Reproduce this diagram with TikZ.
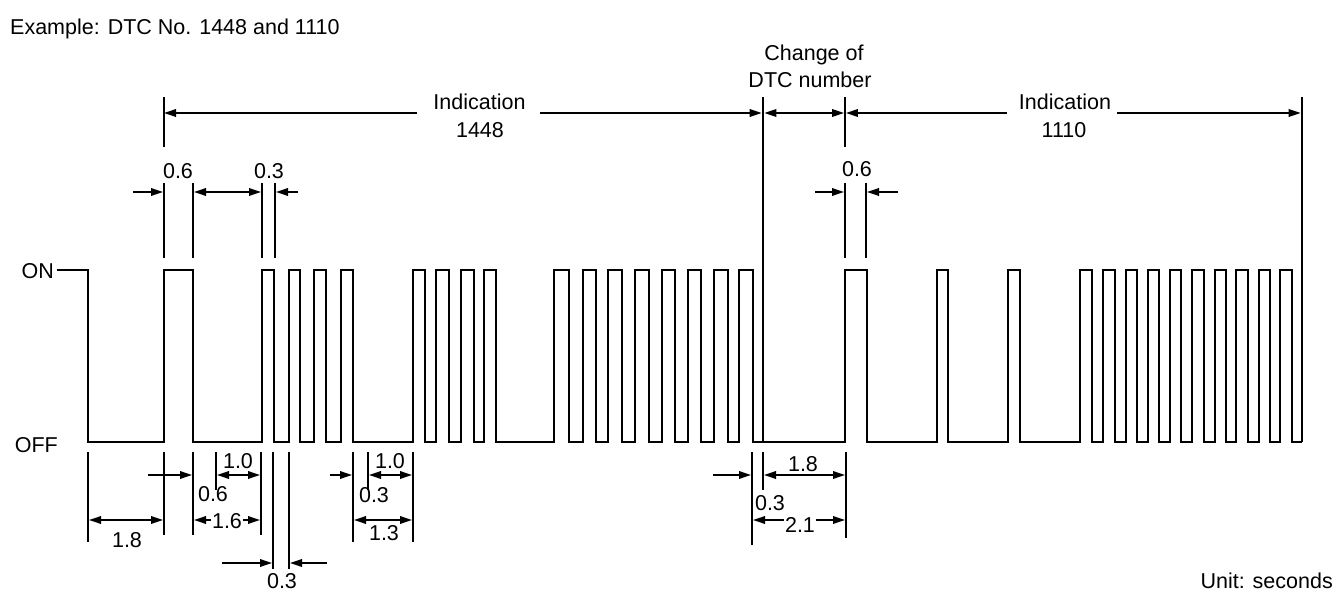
\documentclass[tikz,border=0pt]{standalone}
\usepackage{fontspec}
\setmainfont{Liberation Sans}
\usetikzlibrary{arrows.meta}
\begin{document}
\begin{tikzpicture}[x=1pt,y=-1pt,
  wave/.style={line width=2.7pt,line join=miter,line cap=butt},
  ext/.style={line width=1.8pt},
  extthick/.style={line width=2.6pt},
  dimline/.style={line width=1.8pt,arrows={-Triangle[length=12pt,width=7.5pt]}},
  dimboth/.style={line width=1.8pt,arrows={Triangle[length=12pt,width=7.5pt]-Triangle[length=12pt,width=7.5pt]}},
  lbl/.style={font=\fontsize{21.5}{24}\selectfont,inner sep=0pt,anchor=base},
  lblw/.style={lbl,fill=white,inner xsep=1pt,inner ysep=1pt}]
\useasboundingbox (0,0) rectangle (1344,604);
% titles
\node[lbl,anchor=base west] (title) at (10,35) {Example: DTC No. 1448 and 1110};
\node[lbl,anchor=base east] (unit) at (1333,588) {Unit: seconds};
\node[lbl,anchor=base east] (on) at (54,278) {ON};
\node[lbl,anchor=base east] (off) at (58,452) {OFF};
% waveform
\draw[wave] (57,270) -- (88,270) -- (88,442)
  foreach \a/\b in {164/193,262/274,289/300,314/326,341/353,413/425,436/449,461/474,484/496,
    554/569,583/596,608/622,635/649,662/675,688/701,714/728,739/753,845/867,937/948,1008/1020,
    1080/1092,1103/1115,1126/1137,1148/1159,1170/1181,1192/1204,1215/1226,1236/1248,1259/1270,1280/1292}
  { -- (\a,442) -- (\a,270) -- (\b,270) -- (\b,442) } -- (1302,442);
% top extension lines
\coordinate (s1448) at (164,113);
\coordinate (chg) at (763,113);
\coordinate (s1110) at (845,113);
\coordinate (e1110) at (1302,113);
\draw[ext] (164,97) -- (164,147);
\draw[ext] (845,97) -- (845,147);
\draw[extthick] (763,97) -- (763,442);
\draw[extthick] (1302,97) -- (1302,442);
% top dimensions
\node[lbl] (ind1) at (479.5,110) {Indication};
\node[lbl] (n1448) at (480,138) {1448};
\node[lbl] (ind2) at (1065,110) {Indication};
\node[lbl] (n1110) at (1064,138) {1110};
\node[lbl] (chg1) at (814,61) {Change of};
\node[lbl] (chg2) at (810,88) {DTC number};
\draw[dimline] (417,113) -- (s1448);
\draw[dimline] (540,113) -- ([xshift=-1.3pt]chg);
\draw[dimboth] ([xshift=1.3pt]chg) -- ([xshift=-0.9pt]s1110);
\draw[dimline] (1007,113) -- ([xshift=0.9pt]s1110);
\draw[dimline] (1117,113) -- ([xshift=-1.3pt]e1110);
% second row
\foreach \x in {164,193,262,275,845,866} \draw[ext] (\x,183) -- (\x,258);
\draw[dimline] (133,192) -- (163,192);
\draw[dimboth] (194,192) -- (261,192);
\draw[dimline] (298,192) -- (276,192);
\draw[dimline] (815,192) -- (844,192);
\draw[dimline] (898,192) -- (867,192);
\node[lbl] (t06a) at (178,179) {0.6};
\node[lbl] (t03a) at (269,179) {0.3};
\node[lbl] (t06b) at (857,177) {0.6};
% bottom extension lines
\draw[ext] (88,452) -- (88,542);
\draw[ext] (164,452) -- (164,535);
\draw[ext] (193,452) -- (193,535);
\draw[ext] (216,452) -- (216,490);
\draw[ext] (261,452) -- (261,535);
\draw[ext] (273,452) -- (273,569);
\draw[ext] (289,452) -- (289,569);
\draw[ext] (353,452) -- (353,542);
\draw[ext] (368,452) -- (368,490);
\draw[ext] (413,452) -- (413,542);
\draw[extthick] (752,452) -- (752,545);
\draw[ext] (763,452) -- (763,490);
\draw[ext] (846,452) -- (846,538);
% bottom dimensions
\draw[dimboth] (89,520) -- (163,520);
\node[lbl] (b18) at (127,547) {1.8};
\draw[dimline] (148,475) -- (192,475);
\node[lbl] (b06) at (213,501) {0.6};
\draw[dimboth] (217,475) -- (260,475);
\node[lbl] (b10a) at (238,468) {1.0};
\draw[dimboth] (194,520) -- (260,520);
\node[lblw] (b16) at (227,528) {1.6};
\draw[dimline] (222,563) -- (272,563);
\draw[dimline] (327,563) -- (290,563);
\node[lbl] (b03a) at (282,588) {0.3};
\draw[dimline] (330,475) -- (352,475);
\draw[dimboth] (369,475) -- (412,475);
\node[lbl] (b10b) at (390,468) {1.0};
\node[lbl] (b03b) at (374,502) {0.3};
\draw[dimboth] (354,520) -- (412,520);
\node[lbl] (b13) at (384,540) {1.3};
\draw[dimline] (713,475) -- (751,475);
\draw[dimboth] (764,475) -- (845,475);
\node[lbl] (b18b) at (803,471) {1.8};
\node[lbl] (b03c) at (770,510) {0.3};
\draw[dimboth] (753,520) -- (845,520);
\node[lblw] (b21) at (800,532) {2.1};
\end{tikzpicture}
\end{document}
